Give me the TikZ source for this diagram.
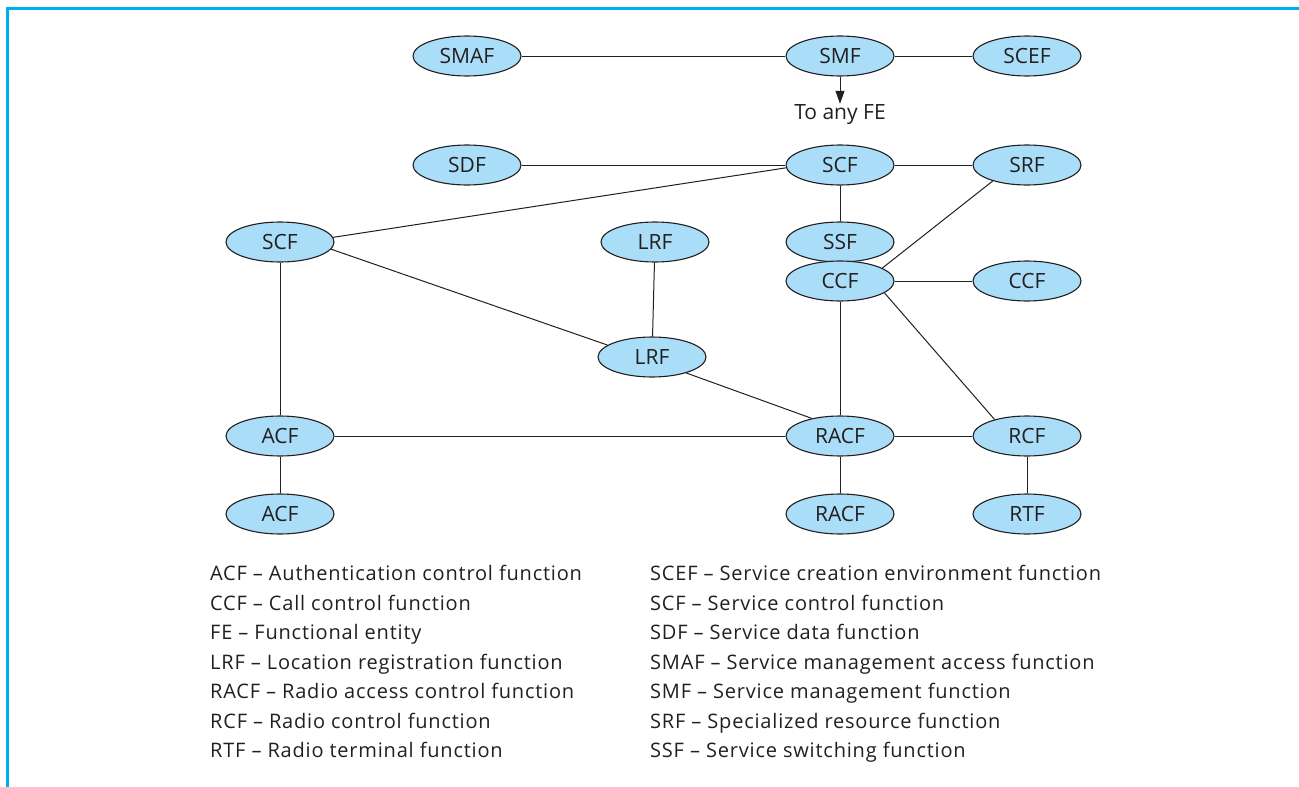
\documentclass[tikz,border=0pt]{standalone}
\usepackage{fontspec}
\setmainfont{Open Sans}
\newfontfamily\legendfont[LetterSpace=4]{Open Sans}
\usetikzlibrary{shapes.geometric,arrows.meta}
\definecolor{fillblue}{RGB}{170,222,248}
\definecolor{frame}{RGB}{0,174,239}
\definecolor{ink}{RGB}{35,31,32}
\tikzset{
  fe/.style={ellipse, draw=ink, line width=1.1pt, fill=fillblue, text=ink, minimum width=108pt, minimum height=40pt, inner sep=0pt, font=\fontsize{21}{24}\selectfont},
  link/.style={line width=1pt, ink},
  legend/.style={anchor=base west, inner sep=0pt, text=ink, font=\legendfont\fontsize{20}{22}\selectfont}
}
\begin{document}
\begin{tikzpicture}[x=1pt,y=-1pt]
\useasboundingbox (0,0) rectangle (1299,787);
\draw[frame, line width=3pt] (7.5,787) -- (7.5,8.5) -- (1299,8.5);
% nodes
\node[fe] (smaf) at (467,56) {SMAF};
\node[fe] (smf) at (840,56) {SMF};
\node[fe] (scef) at (1027,56) {SCEF};
\node[text=ink, inner sep=1pt, font=\fontsize{21}{24}\selectfont] (any) at (840,115) {To any FE};
\node[fe] (sdf) at (467,165) {SDF};
\node[fe] (scf) at (840,165) {SCF};
\node[fe] (srf) at (1027,165) {SRF};
\node[fe] (scfl) at (280,242) {SCF};
\node[fe] (lrft) at (655,242) {LRF};
\node[fe] (ssf) at (840,242) {SSF};
\node[fe] (ccf) at (840,281) {CCF};
\node[fe] (ccfr) at (1027,281) {CCF};
\node[fe] (lrf) at (652,357) {LRF};
\node[fe] (acf) at (280,436) {ACF};
\node[fe] (racf) at (840,436) {RACF};
\node[fe] (rcf) at (1027,436) {RCF};
\node[fe] (acfb) at (280,514) {ACF};
\node[fe] (racfb) at (840,514) {RACF};
\node[fe] (rtf) at (1027,514) {RTF};
% links
\draw[link] (smaf) -- (smf);
\draw[link] (smf) -- (scef);
\draw[link, -{Triangle[length=13pt,width=9pt]}] (smf.south) -- (any.north);
\draw[link] (sdf) -- (scf);
\draw[link] (scf) -- (srf);
\draw[link] (scf) -- (ssf);
\draw[link] (scf.183) -- (scfl.5);
\draw[link] (srf.205) -- (ccf.17);
\draw[link] (ccf) -- (ccfr);
\draw[link] (ccf) -- (racf);
\draw[link] (ccf.345) -- (rcf.153);
\draw[link] (scfl) -- (acf);
\draw[link] (scfl.352) -- (lrf.165);
\draw[link] (lrft) -- (lrf);
\draw[link] (lrf.335) -- (racf.148);
\draw[link] (acf) -- (racf);
\draw[link] (racf) -- (rcf);
\draw[link] (acf) -- (acfb);
\draw[link] (racf) -- (racfb);
\draw[link] (rcf) -- (rtf);
% legend
\node[legend] (l1) at (210,580) {ACF – Authentication control function};
\node[legend] (l2) at (210,610) {CCF – Call control function};
\node[legend] (l3) at (210,639) {FE – Functional entity};
\node[legend] (l4) at (210,669) {LRF – Location registration function};
\node[legend] (l5) at (210,698) {RACF – Radio access control function};
\node[legend] (l6) at (210,728) {RCF – Radio control function};
\node[legend] (l7) at (210,757) {RTF – Radio terminal function};
\node[legend] (r1) at (650,580) {SCEF – Service creation environment function};
\node[legend] (r2) at (650,610) {SCF – Service control function};
\node[legend] (r3) at (650,639) {SDF – Service data function};
\node[legend] (r4) at (650,669) {SMAF – Service management access function};
\node[legend] (r5) at (650,698) {SMF – Service management function};
\node[legend] (r6) at (650,728) {SRF – Specialized resource function};
\node[legend] (r7) at (650,757) {SSF – Service switching function};
\end{tikzpicture}
\end{document}
